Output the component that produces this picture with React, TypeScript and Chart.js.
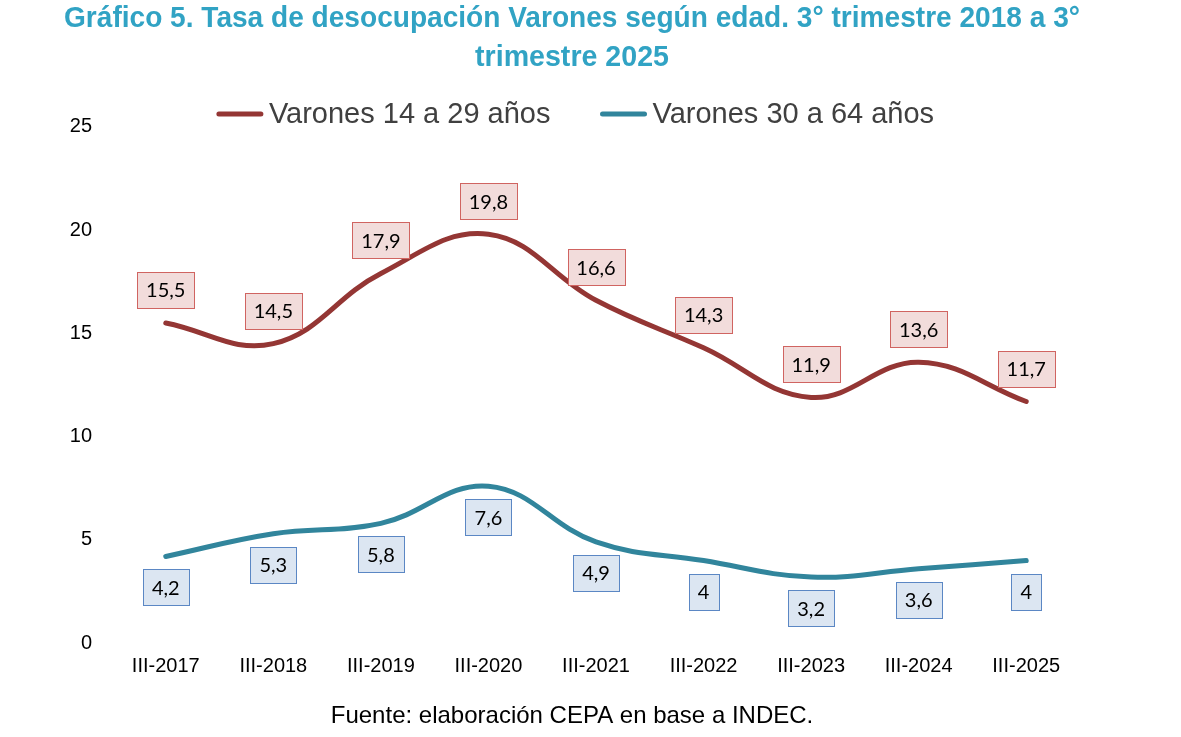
import React, { useEffect, useRef } from "react";
import { Chart, registerables } from "chart.js";

Chart.register(...registerables);

// ---- data ----
const categories = [
  "III-2017",
  "III-2018",
  "III-2019",
  "III-2020",
  "III-2021",
  "III-2022",
  "III-2023",
  "III-2024",
  "III-2025",
];
const youngMen = [15.5, 14.5, 17.9, 19.8, 16.6, 14.3, 11.9, 13.6, 11.7];
const adultMen = [4.2, 5.3, 5.8, 7.6, 4.9, 4, 3.2, 3.6, 4];
const seriesNames = ["Varones 14 a 29 años", "Varones 30 a 64 años"];
const yTickValues = [0, 5, 10, 15, 20, 25];
const titleLines = [
  "Gráfico 5. Tasa de desocupación Varones según edad. 3° trimestre 2018 a 3°",
  "trimestre 2025",
];
const sourceNote = "Fuente: elaboración CEPA en base a INDEC.";

// ---- styles ----
const RED = "#943634";
const TEAL = "#31859c";
const SANS = '"Liberation Sans", Arial, sans-serif';
const LABEL_FONT = '20px Lato, "Noto Sans", sans-serif';

const fmt = (v: number) => String(v).replace(".", ",");

const legendPlugin = {
  id: "customLegend",
  afterDraw(chart: any) {
    const opts = chart.options.plugins.customLegend || {};
    const ctx = chart.ctx;
    ctx.save();
    ctx.font = `29px ${SANS}`;
    const lineW = 46;
    const gapText = 6;
    const gapItems = 50;
    const items = chart.data.datasets.map((ds: any) => ({
      text: ds.label,
      color: ds.borderColor,
      w: ctx.measureText(ds.label).width,
    }));
    const total =
      items.reduce((s: number, it: any) => s + lineW + gapText + it.w, 0) +
      gapItems * (items.length - 1);
    let x = opts.centerX - total / 2;
    const y = opts.y;
    items.forEach((it: any) => {
      ctx.strokeStyle = it.color;
      ctx.lineWidth = 5;
      ctx.lineCap = "round";
      ctx.beginPath();
      ctx.moveTo(x + 2, y);
      ctx.lineTo(x + lineW - 2, y);
      ctx.stroke();
      ctx.fillStyle = "#404040";
      ctx.textAlign = "left";
      ctx.textBaseline = "middle";
      ctx.fillText(it.text, x + lineW + gapText, y + 1);
      x += lineW + gapText + it.w + gapItems;
    });
    ctx.restore();
  },
};

const valueBoxPlugin = {
  id: "valueBoxes",
  afterDatasetsDraw(chart: any) {
    const cfg = chart.options.plugins.valueBoxes || {};
    const ctx = chart.ctx;
    ctx.save();
    ctx.font = LABEL_FONT;
    ctx.textAlign = "center";
    ctx.textBaseline = "middle";
    chart.data.datasets.forEach((ds: any, i: number) => {
      const meta = chart.getDatasetMeta(i);
      const st = cfg.styles[i];
      meta.data.forEach((pt: any, j: number) => {
        const txt = fmt(ds.data[j]);
        const tw = ctx.measureText(txt).width;
        const w = Math.round(tw + 18);
        const h = 36;
        const cx = pt.x;
        const cy = pt.y + st.offset;
        const left = Math.round(cx - w / 2) + 0.5;
        const top = Math.round(cy - h / 2) + 0.5;
        ctx.fillStyle = st.fill;
        ctx.fillRect(left, top, w, h);
        ctx.strokeStyle = st.border;
        ctx.lineWidth = 1;
        ctx.strokeRect(left, top, w, h);
        ctx.fillStyle = "#000";
        ctx.fillText(txt, cx, cy + 1);
      });
    });
    ctx.restore();
  },
};

export default function App() {
  const canvasRef = useRef<HTMLCanvasElement | null>(null);

  useEffect(() => {
    if (!canvasRef.current) return;
    const chart = new Chart(canvasRef.current, {
      type: "line",
      data: {
        labels: categories,
        datasets: [
          {
            label: seriesNames[0],
            data: youngMen,
            borderColor: RED,
            backgroundColor: RED,
            borderWidth: 5,
            borderCapStyle: "round",
            pointRadius: 0,
            pointHoverRadius: 0,
            tension: 0.4,
            fill: false,
          },
          {
            label: seriesNames[1],
            data: adultMen,
            borderColor: TEAL,
            backgroundColor: TEAL,
            borderWidth: 5,
            borderCapStyle: "round",
            pointRadius: 0,
            pointHoverRadius: 0,
            tension: 0.4,
            fill: false,
          },
        ],
      },
      options: {
        animation: false,
        responsive: false,
        maintainAspectRatio: false,
        layout: { padding: { left: 64, right: 101, top: 0, bottom: 0 } },
        plugins: {
          legend: { display: false },
          tooltip: { enabled: false },
          title: {
            display: true,
            text: titleLines,
            color: "#31a3c4",
            font: { family: SANS, size: 28.6, weight: "bold", lineHeight: 1.36 },
            padding: { top: 0, bottom: 49 },
          },
          subtitle: {
            display: true,
            position: "bottom",
            text: sourceNote,
            color: "#000",
            font: { family: SANS, size: 24, weight: "normal", lineHeight: 1.2 },
            padding: { top: 13, bottom: 6 },
          },
          customLegend: { centerX: 575.5, y: 114 },
          valueBoxes: {
            styles: [
              { offset: -33, fill: "#f2dcdb", border: "#d06461" },
              { offset: 31, fill: "#dce6f2", border: "#5b87c4" },
            ],
          },
        } as any,
        scales: {
          x: {
            offset: true,
            grid: { display: false, drawTicks: false },
            border: { display: false },
            ticks: {
              color: "#000",
              font: { family: SANS, size: 20 },
              padding: 11,
              maxRotation: 0,
              autoSkip: false,
            },
          },
          y: {
            min: 0,
            max: 25,
            afterFit: (scale: any) => {
              scale.width = 48;
            },
            afterBuildTicks: (scale: any) => {
              scale.ticks = yTickValues.map((v) => ({ value: v }));
            },
            grid: { display: false, drawTicks: false },
            border: { display: false },
            ticks: {
              color: "#000",
              font: { family: SANS, size: 20 },
              padding: 20,
            },
          },
        },
      },
      plugins: [legendPlugin, valueBoxPlugin],
    });
    return () => chart.destroy();
  }, []);

  return (
    <div
      style={{
        position: "absolute",
        left: 0,
        top: 0,
        width: 1181,
        height: 737,
        background: "#fff",
      }}
    >
      <canvas
        ref={canvasRef}
        width={1181}
        height={737}
        style={{ width: 1181, height: 737, display: "block" }}
      />
    </div>
  );
}
